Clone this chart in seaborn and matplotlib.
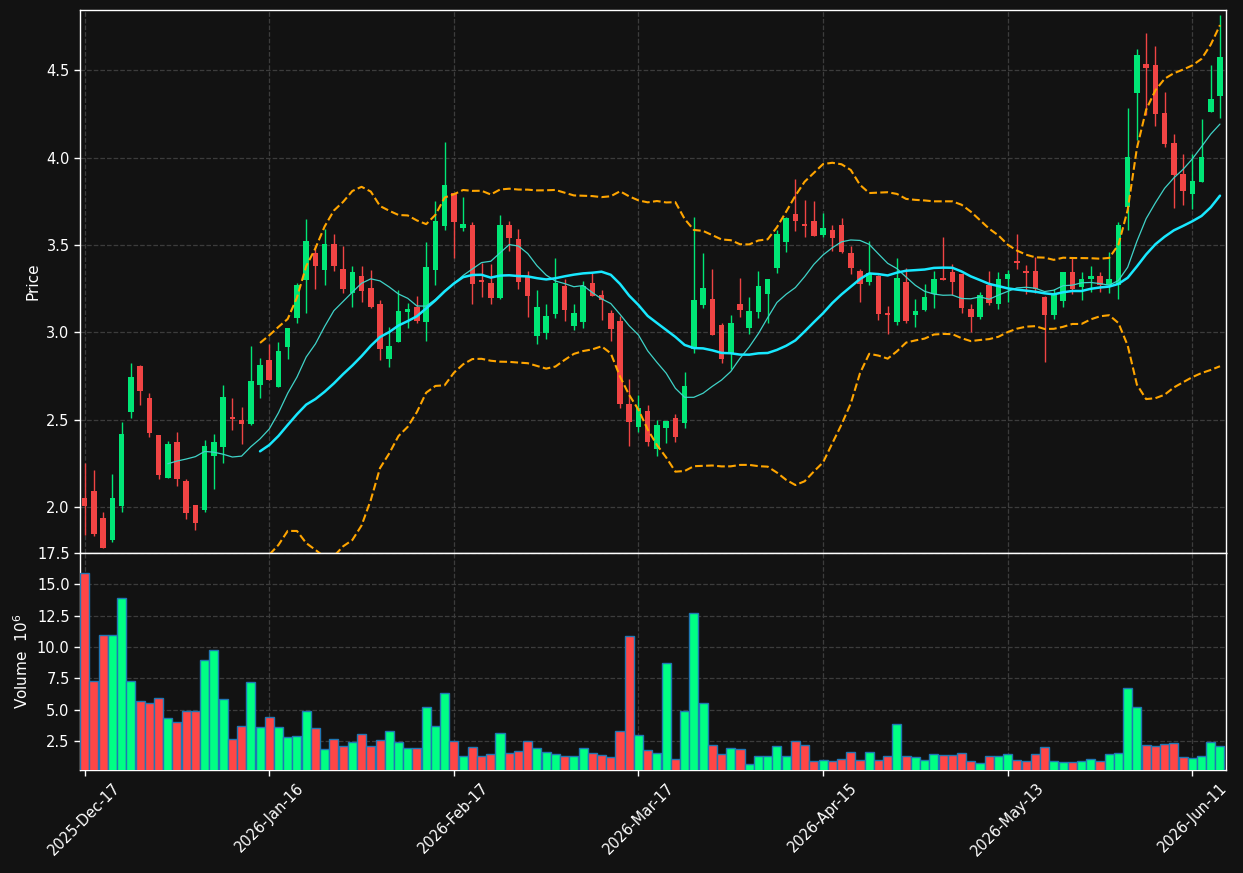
import numpy as np
import pandas as pd
import seaborn as sns
import matplotlib.pyplot as plt
from matplotlib.ticker import MultipleLocator

# OHLC + volume (volume in millions)
opens = [2.051, 2.092, 1.937, 1.813, 2.007, 2.545, 2.807, 2.624, 2.412, 2.168,
         2.372, 2.149, 2.011, 1.983, 2.293, 2.345, 2.512, 2.498, 2.477, 2.700,
         2.841, 2.688, 2.917, 3.083, 3.300, 3.453, 3.358, 3.505, 3.362, 3.223,
         3.322, 3.253, 3.161, 2.848, 2.944, 3.117, 3.144, 3.060, 3.358, 3.609,
         3.795, 3.598, 3.613, 3.295, 3.281, 3.197, 3.613, 3.533, 3.320, 2.980,
         2.997, 3.106, 3.264, 3.037, 3.060, 3.281, 3.213, 3.110, 3.064, 2.589,
         2.459, 2.549, 2.330, 2.454, 2.507, 2.479, 2.902, 3.157, 3.190, 3.043,
         2.883, 3.161, 3.026, 3.117, 3.220, 3.369, 3.518, 3.677, 3.620, 3.636,
         3.557, 3.585, 3.613, 3.453, 3.350, 3.289, 3.322, 3.104, 3.060, 3.287,
         3.100, 3.129, 3.220, 3.306, 3.344, 3.333, 3.133, 3.087, 3.270, 3.160,
         3.304, 3.402, 3.345, 3.350, 3.203, 3.098, 3.178, 3.344, 3.258, 3.304,
         3.322, 3.270, 3.268, 3.718, 4.370, 4.536, 4.528, 4.254, 4.082, 3.907,
         3.792, 3.862, 4.262, 4.355]
highs = [2.252, 2.212, 1.970, 2.187, 2.488, 2.824, 2.810, 2.650, 2.414, 2.376,
         2.427, 2.158, 2.013, 2.383, 2.416, 2.700, 2.622, 2.574, 2.919, 2.851,
         2.931, 2.942, 3.024, 3.283, 3.650, 3.499, 3.590, 3.565, 3.493, 3.377,
         3.379, 3.354, 3.183, 3.028, 3.240, 3.165, 3.207, 3.514, 3.750, 4.092,
         3.797, 3.773, 3.632, 3.398, 3.388, 3.674, 3.636, 3.590, 3.350, 3.240,
         3.160, 3.423, 3.303, 3.160, 3.291, 3.337, 3.240, 3.125, 3.093, 2.730,
         2.640, 2.584, 2.498, 2.492, 2.532, 2.771, 3.661, 3.451, 3.360, 3.051,
         3.097, 3.308, 3.200, 3.349, 3.304, 3.585, 3.661, 3.876, 3.760, 3.752,
         3.684, 3.612, 3.652, 3.495, 3.362, 3.520, 3.327, 3.148, 3.423, 3.366,
         3.188, 3.277, 3.349, 3.543, 3.388, 3.335, 3.160, 3.230, 3.350, 3.343,
         3.354, 3.560, 3.383, 3.430, 3.205, 3.245, 3.344, 3.428, 3.343, 3.377,
         3.343, 3.460, 3.630, 4.286, 4.624, 4.711, 4.637, 4.373, 4.134, 4.023,
         4.023, 4.223, 4.530, 4.816]
lows = [1.840, 1.834, 1.762, 1.796, 1.970, 2.507, 2.582, 2.402, 2.158, 2.165,
        2.118, 1.930, 1.868, 1.970, 2.105, 2.250, 2.439, 2.358, 2.470, 2.622,
        2.728, 2.685, 2.848, 3.050, 3.108, 3.249, 3.268, 3.349, 3.226, 3.146,
        3.171, 3.140, 2.841, 2.799, 2.944, 3.022, 3.050, 2.951, 3.268, 3.585,
        3.423, 3.577, 3.160, 3.203, 3.160, 3.188, 3.465, 3.247, 3.089, 2.931,
        2.959, 3.080, 3.062, 3.011, 3.022, 3.209, 3.068, 2.948, 2.568, 2.351,
        2.431, 2.349, 2.292, 2.363, 2.374, 2.450, 2.879, 3.140, 2.986, 2.822,
        2.788, 3.085, 2.988, 3.080, 3.050, 3.337, 3.460, 3.577, 3.543, 3.552,
        3.543, 3.465, 3.451, 3.333, 3.171, 3.268, 3.068, 2.988, 3.039, 3.050,
        3.028, 3.120, 3.140, 3.298, 3.213, 3.108, 2.999, 3.077, 3.154, 3.131,
        3.173, 3.360, 3.220, 3.222, 2.830, 3.074, 3.144, 3.220, 3.186, 3.232,
        3.228, 3.224, 3.188, 3.585, 4.100, 4.245, 4.183, 4.063, 3.713, 3.728,
        3.707, 3.860, 4.260, 4.225]
closes = [2.007, 1.846, 1.767, 2.050, 2.418, 2.744, 2.665, 2.425, 2.185, 2.360,
          2.162, 1.962, 1.905, 2.349, 2.372, 2.629, 2.505, 2.477, 2.721, 2.812,
          2.728, 2.892, 3.024, 3.270, 3.522, 3.380, 3.505, 3.380, 3.249, 3.343,
          3.238, 3.146, 2.906, 2.921, 3.121, 3.133, 3.066, 3.373, 3.636, 3.842,
          3.632, 3.619, 3.277, 3.290, 3.197, 3.613, 3.540, 3.289, 3.209, 3.144,
          3.093, 3.281, 3.129, 3.110, 3.266, 3.209, 3.182, 3.020, 2.591, 2.488,
          2.565, 2.374, 2.469, 2.492, 2.399, 2.692, 3.184, 3.253, 2.986, 2.848,
          3.053, 3.129, 3.121, 3.264, 3.304, 3.562, 3.654, 3.638, 3.609, 3.552,
          3.594, 3.541, 3.460, 3.369, 3.277, 3.337, 3.106, 3.100, 3.308, 3.066,
          3.120, 3.200, 3.303, 3.300, 3.289, 3.140, 3.089, 3.213, 3.169, 3.303,
          3.333, 3.398, 3.341, 3.245, 3.098, 3.219, 3.344, 3.245, 3.304, 3.323,
          3.268, 3.304, 3.613, 4.002, 4.586, 4.513, 4.250, 4.078, 3.901, 3.810,
          3.865, 4.005, 4.334, 4.577]
volumes = [15.88, 7.29, 10.93, 10.93, 13.91, 7.29, 5.69, 5.53, 5.93, 4.34,
           4.02, 4.89, 4.89, 8.96, 9.76, 5.85, 2.66, 3.70, 7.21, 3.62,
           4.42, 3.62, 2.82, 2.90, 4.89, 3.54, 1.86, 2.66, 2.10, 2.42,
           3.06, 2.10, 2.58, 3.30, 2.42, 1.94, 1.94, 5.21, 3.70, 6.33,
           2.50, 1.30, 2.02, 1.30, 1.46, 3.14, 1.54, 1.70, 2.50, 1.94,
           1.62, 1.46, 1.30, 1.30, 1.94, 1.54, 1.38, 1.22, 3.30, 10.88,
           2.98, 1.78, 1.54, 8.73, 1.06, 4.89, 12.72, 5.53, 2.18, 1.46,
           1.94, 1.86, 0.66, 1.30, 1.30, 2.10, 1.30, 2.50, 2.18, 0.90,
           0.98, 0.90, 1.05, 1.62, 1.03, 1.62, 1.03, 1.30, 3.86, 1.30,
           1.22, 1.03, 1.46, 1.38, 1.38, 1.54, 0.90, 0.74, 1.30, 1.30,
           1.46, 1.03, 0.90, 1.46, 2.02, 0.90, 0.82, 0.82, 0.90, 1.06,
           0.90, 1.46, 1.54, 6.73, 5.21, 2.18, 2.10, 2.26, 2.34, 1.22,
           1.14, 1.30, 2.42, 2.10]

tick_labels = ['2025-Dec-17', '2026-Jan-16', '2026-Feb-17', '2026-Mar-17',
               '2026-Apr-15', '2026-May-13', '2026-Jun-11']

holidays = ['2025-12-25', '2026-01-01', '2026-01-19', '2026-02-16', '2026-04-03', '2026-05-25']
dates = pd.bdate_range('2025-12-17', periods=len(closes), freq='C', holidays=holidays)

df = pd.DataFrame({'date': dates, 'open': opens, 'high': highs, 'low': lows,
                   'close': closes, 'volume': volumes})
df['idx'] = np.arange(len(df))
df['up'] = df['close'] >= df['open']
df['mav10'] = df['close'].rolling(10).mean()
df['mav20'] = df['close'].rolling(20).mean()
std20 = df['close'].rolling(20).std(ddof=0)
df['upper'] = df['mav20'] + 2 * std20
df['lower'] = df['mav20'] - 2 * std20

bg = '#121212'
sns.set_theme(style='dark', rc={
    'figure.facecolor': bg, 'axes.facecolor': bg, 'axes.edgecolor': 'white',
    'axes.labelcolor': 'white', 'xtick.color': 'white', 'ytick.color': 'white',
    'text.color': 'white', 'grid.color': '#3c3c3c', 'grid.linestyle': '--',
})
plt.rcParams['font.family'] = ['DejaVu Sans']

fig = plt.figure(figsize=(12.43, 8.73), dpi=100)
ax1 = fig.add_axes([0.0644, 0.3666, 0.9219, 0.6219])
ax2 = fig.add_axes([0.0644, 0.1180, 0.9219, 0.2486], sharex=ax1)

candle_up, candle_down = '#00e676', '#f04444'
vol_up, vol_down = '#00ff84', '#ff4646'

ccol = np.where(df['up'], candle_up, candle_down)
ax1.vlines(df['idx'], df['low'], df['high'], colors=ccol, lw=1.0, zorder=2)
body = (df['close'] - df['open']).abs().clip(lower=0.008)
ax1.bar(df['idx'], body, bottom=df[['open', 'close']].min(axis=1),
        width=0.6, color=ccol, lw=0, zorder=3)

sns.lineplot(data=df, x='idx', y='mav10', ax=ax1, color='#3fd3c8', lw=0.9, zorder=4)
sns.lineplot(data=df, x='idx', y='mav20', ax=ax1, color='#18e8ff', lw=1.8, zorder=4)
sns.lineplot(data=df, x='idx', y='upper', ax=ax1, color='#ffa500', lw=1.5, ls='--', zorder=4)
sns.lineplot(data=df, x='idx', y='lower', ax=ax1, color='#ffa500', lw=1.5, ls='--', zorder=4)

vcol = np.where(df['up'], vol_up, vol_down)
ax2.bar(df['idx'], df['volume'], width=0.98, color=vcol, edgecolor='#1f77b4', lw=1.0, zorder=3)

tick_pos = np.arange(0, len(df), 20)[:len(tick_labels)]
for ax in (ax1, ax2):
    ax.grid(True, axis='both', color='#3c3c3c', ls='--', lw=0.9)
    for s in ax.spines.values():
        s.set_color('white')
        s.set_linewidth(1.0)
    ax.tick_params(colors='white', labelsize=10.5, length=4, width=1, direction='out',
                   left=True, bottom=True)
    ax.set_xlabel('')

ax1.set_xlim(-0.5, 123.65)
ax1.set_ylim(1.736, 4.845)
ax1.yaxis.set_major_locator(MultipleLocator(0.5))
ax1.set_ylabel('Price', fontsize=11)
ax1.tick_params(axis='x', labelbottom=False)

ax2.set_ylim(0.2, 17.5)
ax2.yaxis.set_major_locator(MultipleLocator(2.5))
ax2.set_ylabel('Volume  $10^6$', fontsize=11)
ax2.set_xticks(tick_pos)
ax2.set_xticklabels(tick_labels, rotation=45, ha='center')

fig.savefig('out.png', dpi=100, facecolor=bg)
